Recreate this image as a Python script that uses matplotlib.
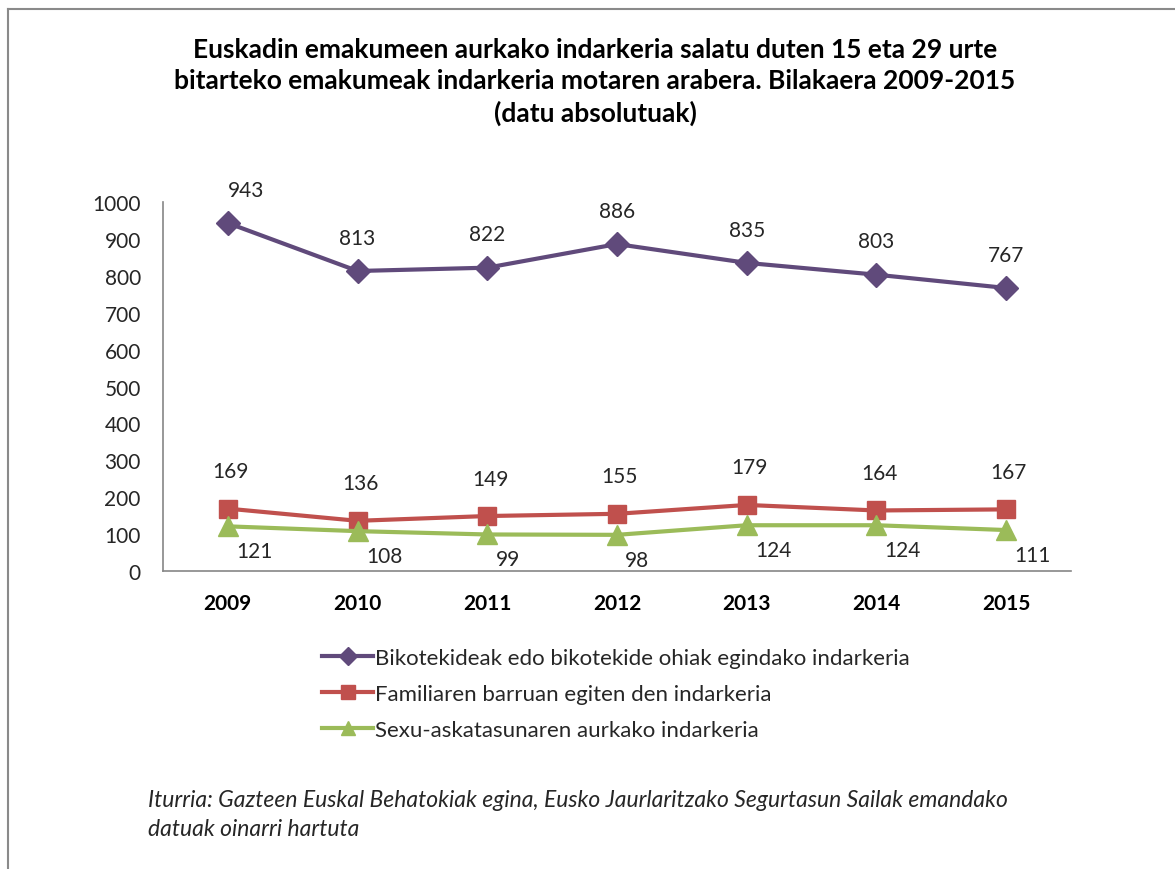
import matplotlib
matplotlib.use("Agg")
import matplotlib.pyplot as plt
from matplotlib.lines import Line2D

plt.rcParams['font.family'] = ['Lato', 'DejaVu Sans']

years = ['2009', '2010', '2011', '2012', '2013', '2014', '2015']
bikote = [943, 813, 822, 886, 835, 803, 767]
familia = [169, 136, 149, 155, 179, 164, 167]
sexu = [121, 108, 99, 98, 124, 124, 111]
series_names = [
    'Bikotekideak edo bikotekide ohiak egindako indarkeria',
    'Familiaren barruan egiten den indarkeria',
    'Sexu-askatasunaren aurkako indarkeria',
]
title = ('Euskadin emakumeen aurkako indarkeria salatu duten 15 eta 29 urte\n'
         'bitarteko emakumeak indarkeria motaren arabera. Bilakaera 2009-2015\n'
         '(datu absolutuak)')
source = ('Iturria: Gazteen Euskal Behatokiak egina, Eusko Jaurlaritzako Segurtasun Sailak emandako\n'
          'datuak oinarri hartuta')

PURPLE = '#604A7B'
RED = '#C0504D'
GREEN = '#9BBB59'
TXT = '#262626'

fig = plt.figure(figsize=(11.75, 8.7), dpi=100)
ax = fig.add_axes([163/1175, 1-572/870, (1071-163)/1175, (572-203)/870])

x = list(range(len(years)))
l1, = ax.plot(x, bikote, color=PURPLE, lw=3, marker='D', ms=12.5, label=series_names[0])
l2, = ax.plot(x, familia, color=RED, lw=3, marker='s', ms=13.5, label=series_names[1])
l3, = ax.plot(x, sexu, color=GREEN, lw=3, marker='^', ms=14, label=series_names[2])

ax.set_xlim(-0.5, len(years) - 0.5)
ax.set_ylim(0, 1000)
ax.set_yticks(range(0, 1001, 100))
ax.set_xticks(x)
ax.set_xticklabels(years, fontsize=15, fontweight='bold', color='black')
ax.tick_params(axis='y', length=0, pad=16, labelsize=15, labelcolor=TXT)
ax.tick_params(axis='x', length=0, pad=16)
for s in ['top', 'right']:
    ax.spines[s].set_visible(False)
for s in ['left', 'bottom']:
    ax.spines[s].set_color('#868686')
    ax.spines[s].set_linewidth(1.2)

for i, v in enumerate(bikote):
    dx = 13 if i == 0 else 0
    ax.annotate(str(v), (i, v), xytext=(dx, 24), textcoords='offset points',
                ha='center', va='center', fontsize=15, color=TXT)
for i, v in enumerate(familia):
    ax.annotate(str(v), (i, v), xytext=(2, 27), textcoords='offset points',
                ha='center', va='center', fontsize=15, color=TXT)
for i, v in enumerate(sexu):
    ax.annotate(str(v), (i, v), xytext=(6, -18), textcoords='offset points',
                ha='left', va='center', fontsize=15, color=TXT)

fig.text(595/1175, 1-82/870, title, ha='center', va='center', fontsize=19,
         fontweight='bold', color='black', linespacing=1.37)

leg = fig.legend(handles=[l1, l2, l3], loc='upper left',
                 bbox_to_anchor=(302/1175, 1-629/870), frameon=False,
                 fontsize=16, handlelength=2.3, handletextpad=0.1,
                 labelspacing=0.72, markerscale=0.75)
for t in leg.get_texts():
    t.set_color(TXT)

fig.text(148/1175, 1-815/870, source, ha='left', va='center', fontsize=16.5,
         style='italic', color=TXT, linespacing=1.5)

# outer frame (left and top)
fig.add_artist(Line2D([8/1175, 8/1175], [0, 1-10/870], transform=fig.transFigure,
                      color='#8a8a8a', lw=1.5))
fig.add_artist(Line2D([8/1175, 1], [1-10/870, 1-10/870], transform=fig.transFigure,
                      color='#8a8a8a', lw=1.5))

fig.savefig('out.png', dpi=100)
